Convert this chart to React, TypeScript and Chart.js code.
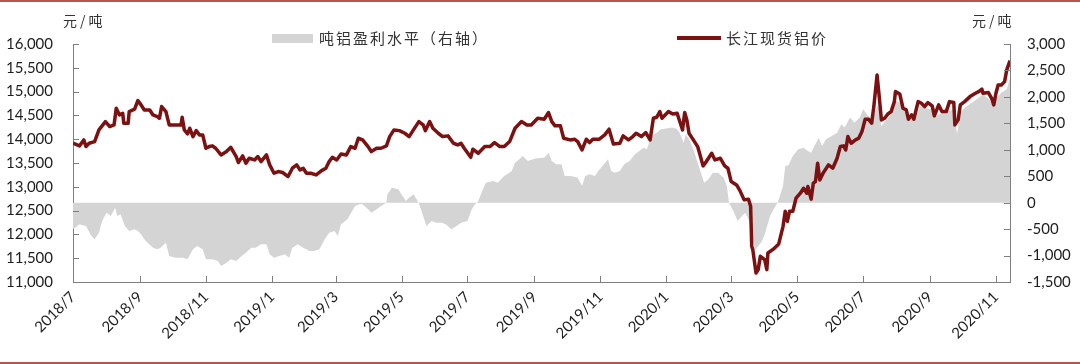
import { useEffect, useRef } from 'react';
import { Chart, registerables } from 'chart.js';

Chart.register(...registerables);

// x values: days since 2018-07-01
const priceDays = [
  0, 6, 10, 12, 15, 20, 24, 30, 34, 38, 40, 43, 46, 47, 51, 52, 57, 60, 63, 66, 71, 74, 78, 80, 82, 86, 89,
  100, 101, 103, 106, 108, 111, 114, 117, 120, 123, 126, 129, 132, 137, 142, 146, 151, 153, 157, 160, 163,
  168, 171, 174, 179, 182, 186, 190, 194, 199, 203, 207, 210, 213, 216, 220, 225, 230, 234, 237, 240, 244,
  248, 253, 257, 261, 264, 268, 273, 276, 281, 285, 290, 293, 297, 302, 307, 311, 315, 320, 324, 326, 330,
  333, 338, 342, 347, 352, 356, 359, 362, 368, 370, 375, 381, 386, 390, 395, 399, 404, 409, 415, 420, 424,
  430, 436, 440, 443, 446, 451, 454, 460, 464, 467, 471, 475, 478, 481, 487, 492, 496, 500, 506, 509, 514,
  518, 521, 526, 530, 534, 537, 540, 543, 545, 551, 555, 559, 561, 564, 566, 568, 570, 574, 578, 583, 586,
  591, 594, 599, 603, 606, 609, 614, 617, 621, 625, 627, 628, 629, 632, 634, 636, 640, 642, 643, 648, 653,
  657, 659, 661, 663, 666, 669, 673, 676, 679, 680, 683, 685, 687, 689, 691, 694, 699, 703, 707, 710, 713,
  715, 717, 720, 724, 727, 730, 733, 736, 739, 741, 744, 746, 748, 751, 754, 757, 760, 761, 765, 768, 771,
  773, 776, 778, 782, 785, 788, 791, 795, 797, 801, 804, 808, 811, 815, 816, 819, 821, 825, 830, 835, 838,
  841, 842, 847, 850, 852, 854, 856, 859, 862, 864, 867,
];
const priceValues = [
  13916, 13860, 13985, 13845, 13915, 13950, 14195, 14370, 14265, 14300, 14650, 14510, 14545, 14335, 14335, 14580, 14630, 14810, 14720, 14615, 14615, 14510, 14475, 14440, 14685, 14580, 14300,
  14300, 14460, 14195, 14110, 14230, 14055, 14180, 14090, 14090, 13810, 13845, 13860, 13810, 13670, 13740, 13830, 13635, 13510, 13650, 13495, 13600,
  13565, 13635, 13530, 13670, 13460, 13285, 13320, 13300, 13215, 13390, 13460, 13355, 13390, 13285, 13285, 13250, 13340, 13390, 13530, 13620, 13565,
  13690, 13670, 13845, 13810, 14020, 13985, 13845, 13740, 13810, 13810, 13860, 14055, 14195, 14180, 14125, 14055, 14195, 14370, 14300, 14180, 14370,
  14230, 14125, 14055, 14070, 13915, 13880, 13915, 13810, 13620, 13790, 13705, 13845, 13845, 13930, 13845, 13845, 13950, 14230, 14370, 14300, 14300,
  14440, 14420, 14560, 14370, 14280, 14280, 14020, 13985, 14000, 13950, 13775, 14000, 13930, 14000, 14000, 14090, 14210, 13900, 13915, 14070, 13985,
  14055, 14125, 14055, 14140, 13985, 14440, 14460, 14580, 14440, 14580, 14530, 14545, 14405, 14195, 14560, 14405, 14125, 13985, 13845, 13440, 13530,
  13705, 13565, 13600, 13440, 13390, 13110, 13040, 12925, 12725, 12740, 12590, 11750, 11680, 11190, 11260, 11540, 11470, 11260, 11610, 11690, 11800,
  12170, 12485, 12275, 12485, 12485, 12760, 12865, 12970, 12865, 13005, 12740, 13075, 13110, 13495, 13145, 13285, 13460, 13390, 13600, 13845, 13860,
  13775, 14055, 13915, 13985, 14020, 14160, 14420, 14420, 14335, 14685, 15350, 14895, 14405, 14440, 14530, 14580, 14790, 15000, 14950, 14650, 14615,
  14420, 14510, 14420, 14790, 14755, 14685, 14770, 14700, 14490, 14720, 14580, 14580, 14790, 14770, 14300, 14405, 14720, 14790, 14895, 14965, 15000,
  15050, 14965, 14980, 14860, 14720, 14965, 15140, 15140, 15210, 15455, 15650,
];

const profitDays = [
  0, 6, 12, 17, 20, 24, 27, 31, 35, 39, 41, 44, 48, 52, 57, 60, 63, 66, 69, 74, 78, 81, 86, 89, 95, 102, 106,
  111, 115, 120, 123, 129, 134, 137, 142, 146, 151, 156, 160, 165, 169, 174, 179, 182, 186, 191, 196, 200,
  203, 208, 213, 219, 223, 228, 233, 237, 242, 245, 248, 254, 261, 265, 268, 273, 276, 281, 285, 290, 291,
  295, 301, 305, 308, 311, 315, 318, 321, 324, 327, 332, 336, 341, 345, 350, 355, 359, 365, 369, 372, 375,
  378, 382, 389, 393, 399, 406, 409, 413, 416, 421, 427, 433, 436, 440, 443, 447, 452, 455, 460, 464, 467,
  471, 474, 478, 483, 486, 490, 495, 498, 501, 506, 510, 515, 520, 524, 528, 531, 535, 540, 544, 549, 554,
  558, 561, 565, 567, 570, 574, 578, 584, 588, 592, 597, 602, 605, 607, 611, 615, 619, 622, 625, 628, 631,
  634, 637, 640, 645, 649, 652, 654, 657, 659, 662, 666, 671, 676, 680, 683, 686, 690, 693, 697, 702, 707,
  711, 714, 719, 723, 728, 731, 736, 739, 741, 745, 748, 753, 757, 761, 765, 770, 773, 779, 784, 788, 794,
  799, 804, 810, 815, 818, 821, 825, 832, 838, 842, 847, 852, 855, 859, 864, 867,
];
const profitValues = [
  -504, -410, -441, -630, -694, -567, -347, -189, -252, -95, -252, -220, -441, -536, -504, -536, -599, -694, -757, -851, -883, -851, -757, -1009, -1040, -1040, -1072,
  -883, -820, -883, -1072, -1072, -1103, -1198, -1135, -1072, -1103, -1009, -946, -851, -851, -788, -788, -977, -1040, -1009, -977, -1040,
  -851, -788, -851, -914, -914, -883, -694, -567, -536, -630, -410, -315, -63, -32, -32, -126, -189, -126, -63, 0, 158,
  284, 252, 126, 32, 95, 158, 63, -63, -252, -441, -347, -378, -378, -410, -504, -441, -378, -347, -126, -32, 32,
  189, 378, 410, 378, 504, 599, 757, 820, 883, 788, 832, 851, 851, 946, 788, 725, 725, 504, 504, 492, 473,
  315, 504, 536, 504, 599, 694, 820, 599, 567, 599, 725, 788, 914, 977, 1040, 1009, 1261, 1324, 1387, 1400, 1419,
  1400, 1337, 1135, 1293, 1198, 1009, 757, 378, 441, 567, 567, 473, 315, 0, -158, -347, -252, -189, -315, -567, -900,
  -820, -750, -600, -252, -100, 0, 126, 315, 694, 706, 883, 1009, 1040, 977, 946, 1072, 1229, 1072, 1198, 1261, 1324,
  1482, 1419, 1608, 1513, 1608, 1766, 1639, 1576, 1639, 1860, 1450, 1576, 1671, 1923, 1892, 1702, 1576, 1576, 1828, 1797, 1766,
  1639, 1702, 1734, 1766, 1293, 1702, 1797, 1892, 1986, 2049, 1967, 1828, 1986, 2081, 2144, 2364,
];

const xTickLabels = [
  '2018/7', '2018/9', '2018/11', '2019/1', '2019/3', '2019/5', '2019/7', '2019/9',
  '2019/11', '2020/1', '2020/3', '2020/5', '2020/7', '2020/9', '2020/11',
];

const seriesNames = ['吨铝盈利水平（右轴）', '长江现货铝价'];
const unitLabel = '元/吨';

const LINE_COLOR = '#7B1111';
const AREA_COLOR = '#D4D4D4';
const AXIS_COLOR = '#7F7F7F';
const TEXT_COLOR = '#1E1E1E';

const ORIGIN = Date.UTC(2018, 6, 1);
const xTickDays = xTickLabels.map((l) => {
  const [y, m] = l.split('/').map(Number);
  return Math.round((Date.UTC(y, m - 1, 1) - ORIGIN) / 86400000);
});

const innerTicks = {
  id: 'innerTicks',
  afterDraw(chart: any) {
    const { ctx } = chart;
    const sx = chart.scales.x;
    const sy = chart.scales.y;
    const sy1 = chart.scales.y1;
    const area = chart.chartArea;
    ctx.save();
    ctx.strokeStyle = AXIS_COLOR;
    ctx.lineWidth = 1;
    ctx.beginPath();
    sy.ticks.forEach((t: any) => {
      const py = Math.round(sy.getPixelForValue(t.value)) + 0.5;
      ctx.moveTo(area.left, py);
      ctx.lineTo(area.left + 6, py);
    });
    sy1.ticks.forEach((t: any) => {
      const py = Math.round(sy1.getPixelForValue(t.value)) + 0.5;
      ctx.moveTo(area.right, py);
      ctx.lineTo(area.right - 6, py);
    });
    sx.ticks.forEach((t: any) => {
      const px = Math.round(sx.getPixelForValue(t.value)) + 0.5;
      ctx.moveTo(px, area.bottom);
      ctx.lineTo(px, area.bottom - 6);
    });
    ctx.stroke();
    ctx.restore();
  },
};

const fmt = (v: number) => Number(v).toLocaleString('en-US');

export default function App() {
  const ref = useRef<HTMLCanvasElement>(null);

  useEffect(() => {
    document.body.style.margin = '0';
    const tickFont = { family: 'Lato, "Liberation Sans", sans-serif', size: 15 };
    const chart = new Chart(ref.current as HTMLCanvasElement, {
      type: 'line',
      data: {
        datasets: [
          {
            label: seriesNames[1],
            data: priceDays.map((d, i) => ({ x: d, y: priceValues[i] })),
            yAxisID: 'y',
            xAxisID: 'x',
            borderColor: LINE_COLOR,
            borderWidth: 3.5,
            pointRadius: 0,
            tension: 0,
            fill: false,
            order: 0,
            borderJoinStyle: 'round',
          },
          {
            label: seriesNames[0],
            data: profitDays.map((d, i) => ({ x: d, y: profitValues[i] })),
            yAxisID: 'y1',
            xAxisID: 'x',
            borderColor: AREA_COLOR,
            borderWidth: 0,
            backgroundColor: AREA_COLOR,
            pointRadius: 0,
            tension: 0,
            fill: 'origin',
            order: 1,
          },
        ],
      },
      options: {
        animation: false,
        responsive: false,
        maintainAspectRatio: false,
        layout: { padding: { top: 44, left: 0, right: 0, bottom: 0 } },
        plugins: { legend: { display: false }, tooltip: { enabled: false } },
        scales: {
          x: {
            type: 'linear',
            position: 'bottom',
            min: 0,
            max: 867,
            afterBuildTicks: (s: any) => {
              s.ticks = xTickDays.map((v) => ({ value: v }));
            },
            afterFit: (s: any) => {
              s.height = 82;
            },
            ticks: {
              autoSkip: false,
              maxRotation: 45,
              minRotation: 45,
              padding: 6,
              color: TEXT_COLOR,
              font: tickFont,
              callback: (_v: any, i: number) => xTickLabels[i],
            },
            grid: { display: true, drawOnChartArea: false, drawTicks: false },
            border: { display: true, color: AXIS_COLOR, width: 1 },
          },
          y: {
            type: 'linear',
            position: 'left',
            min: 11000,
            max: 16000,
            afterFit: (s: any) => {
              s.width = 73;
            },
            ticks: { stepSize: 500, padding: 20, color: TEXT_COLOR, font: tickFont, callback: (v: any) => fmt(v) },
            grid: { display: true, drawOnChartArea: false, drawTicks: false },
            border: { display: true, color: AXIS_COLOR, width: 1 },
          },
          y1: {
            type: 'linear',
            position: 'right',
            min: -1500,
            max: 3000,
            afterFit: (s: any) => {
              s.width = 70;
            },
            ticks: { stepSize: 500, padding: 17, color: TEXT_COLOR, font: tickFont, callback: (v: any) => fmt(v) },
            grid: { display: true, drawOnChartArea: false, drawTicks: false },
            border: { display: true, color: AXIS_COLOR, width: 1 },
          },
        },
      },
      plugins: [innerTicks],
    } as any);
    return () => chart.destroy();
  }, []);

  const cjk = '"Noto Sans CJK SC", "Noto Sans", sans-serif';
  const legendText: any = {
    position: 'absolute',
    top: 28,
    fontFamily: cjk,
    fontSize: 15,
    lineHeight: '20px',
    letterSpacing: 2,
    color: '#333',
    whiteSpace: 'nowrap',
  };
  const unitText: any = {
    position: 'absolute',
    top: 10,
    fontFamily: cjk,
    fontSize: 14,
    lineHeight: '20px',
    letterSpacing: 3,
    color: '#333',
    whiteSpace: 'nowrap',
  };

  return (
    <div style={{ position: 'absolute', left: 0, top: 0, width: 1080, height: 364, background: '#fff', overflow: 'hidden' }}>
      <div style={{ position: 'absolute', left: 0, top: 0, width: 1080, height: 2, background: '#B85450' }} />
      <div style={{ position: 'absolute', left: 0, top: 362, width: 1080, height: 2, background: '#B85450' }} />
      <canvas ref={ref} width={1080} height={364} style={{ position: 'absolute', left: 0, top: 0 }} />
      <div style={{ ...unitText, left: 63 }}>{unitLabel}</div>
      <div style={{ ...unitText, left: 972 }}>{unitLabel}</div>
      <div style={{ position: 'absolute', left: 272, top: 34, width: 41, height: 9, background: AREA_COLOR }} />
      <div style={{ ...legendText, left: 319 }}>{seriesNames[0]}</div>
      <div style={{ position: 'absolute', left: 677, top: 36, width: 44, height: 4, background: LINE_COLOR }} />
      <div style={{ ...legendText, left: 726 }}>{seriesNames[1]}</div>
    </div>
  );
}
